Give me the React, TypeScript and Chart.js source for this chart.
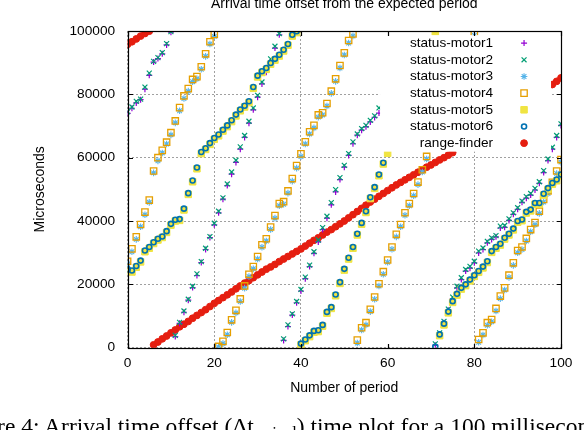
import React, { useEffect, useRef } from "react";
import { Chart, registerables } from "chart.js";
import { drawPoint } from "chart.js/helpers";

Chart.register(...registerables);

const SANS = "'Liberation Sans', Arial, Helvetica, sans-serif";
const SERIF = "'Liberation Serif', 'Times New Roman', serif";

const TITLE = "Arrival time offset from the expected period";
const X_TITLE = "Number of period";
const Y_TITLE = "Microseconds";
const CAPTION_HEAD = "Figure 4: Arrival time offset (Δt";
const CAPTION_SUB = "arrival";
const CAPTION_TAIL = ") time plot for a 100 millisecond period";

const LABELS = [
  "status-motor1",
  "status-motor2",
  "status-motor3",
  "status-motor4",
  "status-motor5",
  "status-motor6",
  "range-finder",
];

const X_MIN = 0;
const X_MAX = 100;
const X_STEP = 20;
const Y_MIN = 0;
const Y_MAX = 100000;
const Y_STEP = 20000;
const HIDDEN_X_GRID = [60];

// values indexed by period number (0..100); null = no visible point
const motor1 = [
  74000, 75600, 77300, 78300, 81600, 86000, 90200, 91300, 92800, 95600,
  99600, 3500, 7700, 11200, 15000, 19000, 22800, 26900, 31000, 34800,
  38800, 42600, 46900, 51200, 54800, 58500, 62700, 66400, 70900, 75100,
  79100, 83300, 87000, 90500, 94600, 98800, 2300, 6700, 10300, 14200,
  17900, 21800, 25600, 29800, 33400, 37300, 40900, 45100, 49200, 53100,
  57000, 60700, 64400, 67100, 68700, 69800, 71300, 72700, 74100, null,
  null, null, null, null, null, null, null, null, null, null,
  null, 800, 4300, 7900, 11800, 15400, 18900, 21500, 24200, 25100,
  26800, 29900, 31000, 33100, 34200, 35000, 37800, 38000, 40200, 42100,
  43700, 45900, 47200, 48200, 49800, 51900, 55300, 59100, 62700, 66400,
  70200,
];

const motor2 = [
  74500, 76000, 77800, 78500, 82300, 86700, 90400, 91600, 93200, 96000,
  99800, 3900, 8000, 11600, 15300, 19400, 23300, 27200, 31400, 35100,
  39300, 43100, 47300, 51700, 55500, 59200, 63400, 67000, 71500, 75700,
  79700, 83900, 87600, 91200, 95200, 99200, 2800, 7200, 10700, 14600,
  18400, 22300, 26100, 30300, 34000, 37900, 41500, 45800, 49900, 53700,
  57600, 61300, 65000, 67500, 69200, 70200, 71800, 73200, 75700, null,
  null, null, null, null, null, null, null, null, null, null,
  null, 1200, 4700, 8300, 12200, 16000, 19400, 22100, 24700, 25700,
  27300, 30500, 31500, 33600, 34700, 35400, 38400, 38600, 40700, 42600,
  44200, 46300, 47700, 48700, 50300, 52400, 55900, 59600, 63300, 67000,
  70700,
];

const motor3 = [
  26400, 30300, 34200, 38200, 42000, 45900, 55200, 59000, 61500, 64300,
  67200, 71000, 74800, 78700, 81000, 84000, 84900, 87900, 92000, 95900,
  98300, 200, 1300, 4100, 8000, 11000, 14600, 18800, 22500, 24900,
  28000, 31700, 33700, 37300, 40900, 44800, 45300, 48800, 52600, 56700,
  60400, 64300, 67500, 69400, 72800, 73500, 76300, 80300, 84100, 88300,
  92400, 96200, 98400, 1500, 5600, 7200, 11400, 15300, 19500, 23200,
  27000, 31100, 35000, 38200, 41800, 44800, 48000, 51500, 55500, 59600,
  null, null, null, null, null, null, null, null, null, null,
  98600, 1700, 4000, 7100, 8200, 11600, 15500, 18200, 22200, 26000,
  30000, 31000, 33700, 36600, 38800, 42400, 46000, 48700, 51500, 55000,
  58600,
];

const motor4 = [
  27300, 31200, 35000, 38900, 42800, 46600, 55800, 60000, 62300, 64900,
  67900, 71600, 75800, 79500, 81800, 84700, 85600, 88700, 92800, 96600,
  98900, 400, 2000, 4800, 8800, 11800, 15400, 19500, 23200, 25600,
  28800, 32500, 34400, 38100, 41700, 45500, 46100, 49500, 53400, 57500,
  61200, 65000, 68200, 70200, 73500, 74200, 77100, 81000, 84900, 89100,
  93100, 97000, 99100, 2400, 6300, 7900, 12100, 16000, 20200, 24000,
  27700, 31800, 35800, 38900, 42600, 45500, 48700, 52300, 56200, 60400,
  null, null, null, null, null, null, null, null, null, null,
  99300, 2600, 4700, 7900, 8900, 12400, 16300, 18900, 22900, 26800,
  30700, 31800, 34500, 37300, 39500, 43100, 46800, 49500, 52200, 55800,
  59400,
];

const motor5 = [
  24200, 23900, 25400, 27100, 30300, 31400, 32900, 34000, 34800, 36400,
  38700, 40000, 40200, 43500, 48400, 52400, 56500, 61300, 62600, 64200,
  65800, 66900, 68400, 69800, 71400, 73200, 74800, 76000, 77400, 81900,
  85500, 86900, 87900, 89500, 90800, 92100, 93700, 95500, 98400, 99500,
  900, 2200, 3500, 4900, 5100, 6800, 10900, 12400, 16400, 20300,
  24500, 28000, 31400, 35600, 39000, 42700, 47100, 50300, 54300, 58000,
  61400, null, null, null, null, null, null, null, null, null,
  null, 99600, 3800, 7200, 11000, 14300, 16600, 18500, 19600, 21100,
  22500, 23800, 25200, 26900, 30100, 31400, 32400, 34300, 35600, 37200,
  39600, 40100, 42500, 43200, 45300, 45300, 48200, 50000, 51600, 52700,
  54300,
];

const motor6 = [
  24800, 24400, 25800, 27500, 30700, 31800, 33300, 34400, 35100, 36800,
  39100, 40400, 40600, 43900, 48800, 52800, 56900, 61800, 63000, 64600,
  66200, 67300, 68800, 70200, 71800, 73600, 75200, 76400, 77800, 82300,
  85900, 87300, 88300, 89900, 91200, 92500, 94100, 95900, 98800, 99900,
  1300, 2600, 3900, 5300, 5500, 7200, 11300, 12800, 16800, 20700,
  24900, 28400, 31800, 36000, 39400, 43100, 47500, 50700, 54700, 58400,
  null, null, null, null, null, null, null, null, null, null,
  null, 300, 4200, 7600, 11400, 14700, 17000, 18900, 20000, 21500,
  22900, 24200, 25600, 27300, 30500, 31800, 32800, 34700, 36000, 37600,
  40000, 40500, 42900, 43600, 45700, 45700, 48600, 50400, 52000, 53100,
  54700,
];

const rangeFinder = [
  95800, 96600, 97500, 98400, 99200, 99950, 900, 1800, 2800, 3700,
  4700, 5600, 6600, 7400, 8300, 9300, 10200, 11100, 12000, 13000,
  14000, 14900, 15800, 16700, 17600, 18600, 19500, 20400, 21200, 22100,
  23000, 23900, 24800, 25500, 26300, 27200, 28000, 28800, 29600, 30400,
  31200, 32100, 33000, 33900, 34700, 35600, 36500, 37300, 38200, 39100,
  40000, 41000, 42000, 43000, 44000, 45000, 46000, 46900, 47800, 48700,
  49600, 50500, 51400, 52200, 53000, 53800, 54600, 55400, 56200, 57000,
  57700, 58500, 59300, 60000, 60800, 61600, null, null, null, null,
  null, null, null, null, null, null, null, null, null, null,
  null, null, null, null, null, null, null, null, 83100, 84100,
  85200,
];

const SERIES = [motor1, motor2, motor3, motor4, motor5, motor6, rangeFinder];

const STYLES = [
  { pointStyle: "cross", radius: 3, border: "#9400d3", fill: "#9400d3", width: 1.2, order: 6 },
  { pointStyle: "crossRot", radius: 3.5, border: "#009e73", fill: "#009e73", width: 1.2, order: 5 },
  { pointStyle: "star", radius: 3.3, border: "#56b4e9", fill: "#56b4e9", width: 1.1, order: 4 },
  { pointStyle: "rect", radius: 4.5, border: "#e69f00", fill: "rgba(0,0,0,0)", width: 1.3, order: 3 },
  { pointStyle: "rect", radius: 4.6, border: "#f0e442", fill: "#f0e442", width: 1, order: 2 },
  { pointStyle: "circle", radius: 2.5, border: "#0072b2", fill: "rgba(0,0,0,0)", width: 1.6, order: 1 },
  { pointStyle: "circle", radius: 3.4, border: "#e51e10", fill: "#e51e10", width: 1, order: 10 },
];

// opaque key box, in data units
const KEY_BOX = { xFrom: 58.25, xTo: 97.7, yFrom: 61900, yTo: 98700 };

function toPoints(vals: (number | null)[]) {
  const pts: { x: number; y: number }[] = [];
  vals.forEach((v, i) => {
    if (v !== null) pts.push({ x: i, y: v });
  });
  return pts;
}

const keyAndFrame = {
  id: "keyAndFrame",
  afterDatasetsDraw(chart: any) {
    const { ctx, chartArea: ca } = chart;
    const xs = chart.scales.x;
    const ys = chart.scales.y;
    const l = xs.getPixelForValue(KEY_BOX.xFrom);
    const r = xs.getPixelForValue(KEY_BOX.xTo);
    const t = ys.getPixelForValue(KEY_BOX.yTo);
    const b = ys.getPixelForValue(KEY_BOX.yFrom);
    ctx.save();
    ctx.fillStyle = "#ffffff";
    ctx.fillRect(l, t, r - l, b - t);
    ctx.font = `13.6px ${SANS}`;
    ctx.textAlign = "right";
    ctx.textBaseline = "middle";
    chart.data.datasets.forEach((ds: any, i: number) => {
      const yy = t + 8 + i * 16.67;
      ctx.fillStyle = "#000";
      ctx.fillText(ds.label, l + 113, yy);
      ctx.fillStyle = ds.pointBackgroundColor;
      ctx.strokeStyle = ds.pointBorderColor;
      ctx.lineWidth = ds.pointBorderWidth;
      ctx.setLineDash([]);
      drawPoint(
        ctx,
        { pointStyle: ds.pointStyle, radius: ds.pointRadius, rotation: 0, borderWidth: ds.pointBorderWidth },
        l + 144,
        yy
      );
    });
    // frame
    ctx.strokeStyle = "#000";
    ctx.lineWidth = 1.2;
    ctx.setLineDash([]);
    const L = Math.round(ca.left) + 0.5;
    const R = Math.round(ca.right) + 0.5;
    const T = Math.round(ca.top) + 0.5;
    const B = Math.round(ca.bottom) + 0.5;
    ctx.strokeRect(L, T, R - L, B - T);
    // inward tics on all four sides
    const TL = 4.5;
    ctx.beginPath();
    xs.ticks.forEach((tk: any) => {
      const px = Math.round(xs.getPixelForValue(tk.value)) + 0.5;
      ctx.moveTo(px, B);
      ctx.lineTo(px, B - TL);
      ctx.moveTo(px, T);
      ctx.lineTo(px, T + TL);
    });
    ys.ticks.forEach((tk: any) => {
      const py = Math.round(ys.getPixelForValue(tk.value)) + 0.5;
      ctx.moveTo(L, py);
      ctx.lineTo(L + TL, py);
      ctx.moveTo(R, py);
      ctx.lineTo(R - TL, py);
    });
    ctx.stroke();
    ctx.restore();
  },
};

export default function App() {
  const ref = useRef<HTMLCanvasElement>(null);

  useEffect(() => {
    const datasets = SERIES.map((vals, i) => ({
      label: LABELS[i],
      data: toPoints(vals),
      showLine: false,
      pointStyle: STYLES[i].pointStyle,
      pointRadius: STYLES[i].radius,
      pointBorderColor: STYLES[i].border,
      pointBackgroundColor: STYLES[i].fill,
      pointBorderWidth: STYLES[i].width,
      borderColor: STYLES[i].border,
      backgroundColor: STYLES[i].fill,
      order: STYLES[i].order,
    }));

    const tickFont = { family: SANS, size: 13.7, weight: "normal" as const };

    const chart = new Chart(ref.current as HTMLCanvasElement, {
      type: "scatter",
      data: { datasets },
      options: {
        responsive: false,
        animation: false,
        events: [],
        layout: { padding: { left: 0, right: 23, top: 0, bottom: 0 } },
        plugins: {
          legend: { display: false },
          tooltip: { enabled: false },
          title: {
            display: true,
            text: TITLE,
            color: "#000",
            fullSize: false,
            font: { family: SANS, size: 14, weight: "normal" },
            padding: { top: -3.95, bottom: 18.15 },
          },
        },
        scales: {
          x: {
            type: "linear",
            min: X_MIN,
            max: X_MAX,
            afterFit: (s: any) => {
              s.height = 82.3;
            },
            ticks: {
              stepSize: X_STEP,
              color: "#000",
              font: tickFont,
              padding: 7.4,
              maxRotation: 0,
              callback: (v: any) => String(v),
            },
            grid: {
              drawTicks: false,
              lineWidth: 1,
              color: (c: any) =>
                c.tick && HIDDEN_X_GRID.includes(c.tick.value) ? "rgba(0,0,0,0)" : "#a0a0a0",
            },
            border: { display: false, dash: [2, 2] },
            title: {
              display: true,
              text: X_TITLE,
              color: "#000",
              font: { family: SANS, size: 14, weight: "normal" },
              padding: { top: 0, bottom: 33.6 },
            },
          },
          y: {
            type: "linear",
            min: Y_MIN,
            max: Y_MAX,
            afterFit: (s: any) => {
              s.width = 127.6;
            },
            ticks: {
              stepSize: Y_STEP,
              color: "#000",
              font: tickFont,
              padding: 12.5,
              callback: (v: any) => String(v),
            },
            grid: { drawTicks: false, lineWidth: 1, color: "#a0a0a0" },
            border: { display: false, dash: [2, 2] },
            title: {
              display: true,
              text: Y_TITLE,
              color: "#000",
              font: { family: SANS, size: 14, weight: "normal" },
              padding: { top: 31.6, bottom: 0 },
            },
          },
        },
      },
      plugins: [keyAndFrame],
    } as any);

    return () => chart.destroy();
  }, []);

  return (
    <div
      style={{
        position: "fixed",
        left: 0,
        top: 0,
        width: 584,
        height: 430,
        overflow: "hidden",
        background: "#fff",
      }}
    >
      <canvas
        ref={ref}
        width={584}
        height={430}
        style={{ position: "absolute", left: 0, top: 0, width: 584, height: 430 }}
      />
      <div
        style={{
          position: "absolute",
          left: -46,
          top: 415,
          fontFamily: SERIF,
          fontSize: 23.5,
          lineHeight: "23px",
          whiteSpace: "nowrap",
          color: "#000",
        }}
      >
        {CAPTION_HEAD}
        <span style={{ fontSize: "0.7em", verticalAlign: "-0.25em", lineHeight: 0 }}>{CAPTION_SUB}</span>
        {CAPTION_TAIL}
      </div>
    </div>
  );
}
